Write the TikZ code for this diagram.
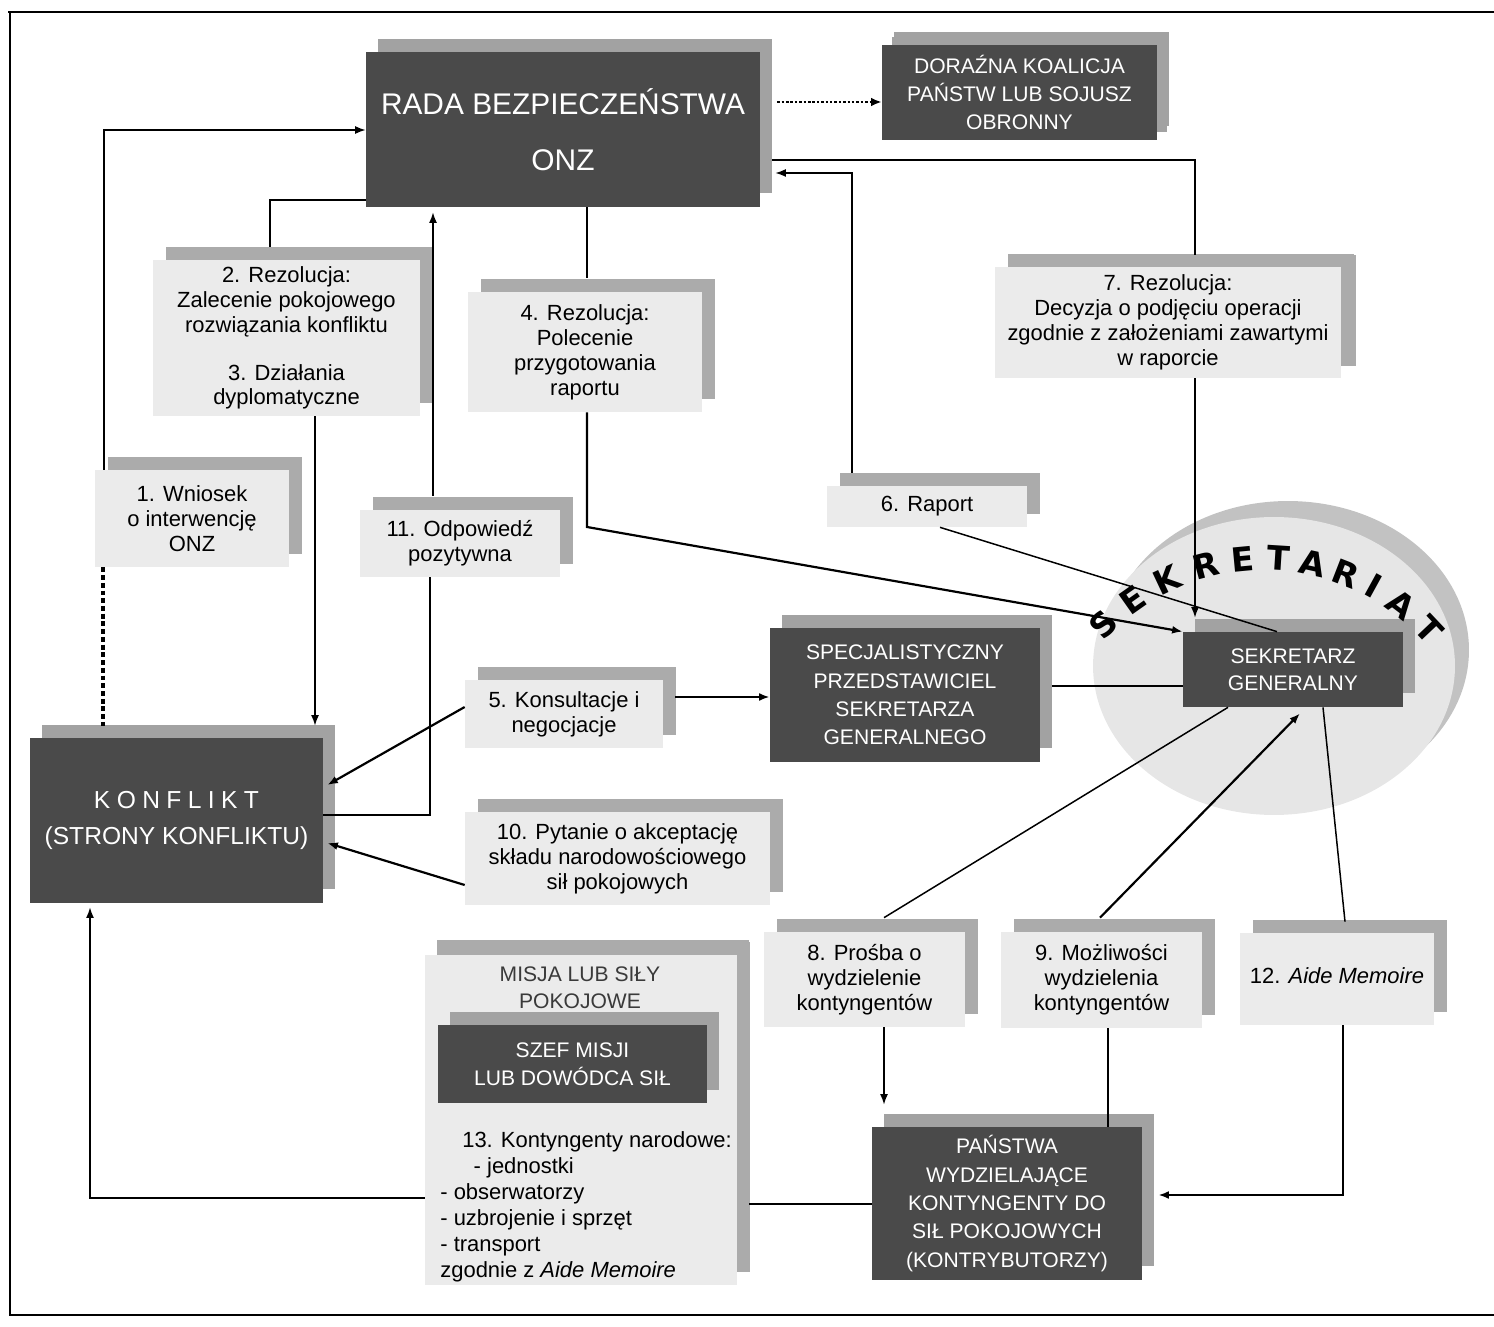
\documentclass[tikz,border=0pt]{standalone}
\usepackage{fontspec}
\setmainfont{Liberation Sans}
\newfontfamily\sekfont{DejaVu Sans}
\usetikzlibrary{arrows.meta,shadows,calc}
\definecolor{dfill}{HTML}{4A4A4A}
\definecolor{dshadow}{HTML}{A2A2A2}
\definecolor{lfill}{HTML}{EBEBEB}
\definecolor{lshadow}{HTML}{ABABAB}
\definecolor{ellA}{HTML}{E6E6E6}
\definecolor{ellB}{HTML}{C2C2C2}
\definecolor{mtext}{HTML}{3A3A3A}
\newcommand\lightfnt{\fontsize{12.5}{14.2}\selectfont}
\newcommand\darkfnt{\fontsize{12}{16.2}\selectfont}
\newcommand\kls{\hspace{0.26em}}
\tikzset{
  lbox/.style={fill=lfill, inner sep=0pt, align=center, font=\lightfnt,
    general shadow={fill=lshadow, shadow xshift=0.26cm, shadow yshift=0.26cm}},
  dbox/.style={fill=dfill, text=white, inner sep=0pt, align=center, font=\darkfnt,
    general shadow={fill=dshadow, shadow xshift=0.24cm, shadow yshift=0.27cm}},
  conn/.style={line width=0.85pt},
  thickc/.style={line width=1.25pt},
  arr/.style={-{Latex[length=6pt,width=4.5pt]}},
  dotv/.style={line width=1.8pt, dash pattern=on 2.8pt off 1.6pt},
  dotarrow/.style={line width=1.6pt, dash pattern=on 1.4pt off 1.1pt, -{Latex[length=6pt,width=5pt]}},
  sekl/.style={font=\sekfont\fontsize{19}{19}\bfseries\selectfont, inner sep=0pt}
}
\begin{document}
\begin{tikzpicture}[x=0.02cm,y=-0.02cm]
\useasboundingbox (0,0) rectangle (1494,1327);
% frame
\draw[line width=1.1pt] (8,12) -- (1494,12);
\draw[line width=1.1pt] (10,12) -- (10,1315) -- (1494,1315);
% secretariat ellipse
\fill[ellB] (1288,650) ellipse [x radius=3.62cm, y radius=2.98cm];
\fill[ellA] (1274,666) ellipse [x radius=3.62cm, y radius=2.98cm];
% boxes
\node[dbox, minimum width=7.88cm, minimum height=3.10cm, font=\fontsize{17}{31.7}\selectfont] (rada) at (563,129.5) {RADA BEZPIECZEŃSTWA\\ONZ};
\node[dbox, minimum width=5.50cm, minimum height=1.90cm, general shadow={fill=dshadow, shadow xshift=0.2cm, shadow yshift=0.16cm}] (dor) at (1019.5,92.5) {DORAŹNA KOALICJA\\PAŃSTW LUB SOJUSZ\\OBRONNY};
\node[dbox, minimum width=5.86cm, minimum height=3.30cm, font=\fontsize{14}{21}\selectfont] (konf) at (176.5,820.5) {K\kls O\kls N\kls F\kls L\kls I\kls K\kls T\\(STRONY KONFLIKTU)};
\node[lbox, minimum width=3.88cm, minimum height=1.94cm] (b1) at (192,518.5) {1. Wniosek\\o interwencję\\ONZ};
\node[lbox, minimum width=5.34cm, minimum height=3.12cm] (b2) at (286.5,338) {2. Rezolucja:\\Zalecenie pokojowego\\rozwiązania konfliktu\\[13pt]3. Działania\\dyplomatyczne};
\node[lbox, minimum width=4.68cm, minimum height=2.40cm] (b4) at (585,352) {4. Rezolucja:\\Polecenie\\przygotowania\\raportu};
\node[lbox, minimum width=6.92cm, minimum height=2.22cm, general shadow={fill=lshadow, shadow xshift=0.3cm, shadow yshift=0.24cm}] (b7) at (1168,322.5) {7. Rezolucja:\\Decyzja o podjęciu operacji\\zgodnie z założeniami zawartymi\\w raporcie};
\node[lbox, minimum width=4.0cm, minimum height=1.34cm] (b11) at (460,543.5) {11. Odpowiedź\\pozytywna};
\node[lbox, minimum width=4.0cm, minimum height=0.82cm] (b6) at (927,506.5) {6. Raport};
\node[lbox, minimum width=3.96cm, minimum height=1.36cm] (b5) at (564,714) {5. Konsultacje i\\negocjacje};
\node[lbox, minimum width=6.10cm, minimum height=1.86cm] (b10) at (617.5,858.5) {10. Pytanie o akceptację\\składu narodowościowego\\sił pokojowych};
\node[dbox, minimum width=5.40cm, minimum height=2.68cm] (specj) at (905,695) {SPECJALISTYCZNY\\PRZEDSTAWICIEL\\SEKRETARZA\\GENERALNEGO};
\node[dbox, minimum width=4.40cm, minimum height=1.50cm, font=\fontsize{12}{15.3}\selectfont] (sek) at (1293,669.5) {SEKRETARZ\\GENERALNY};
\node[lbox, minimum width=4.02cm, minimum height=1.90cm] (b8) at (864.5,979.5) {8. Prośba o\\wydzielenie\\kontyngentów};
\node[lbox, minimum width=4.02cm, minimum height=1.92cm] (b9) at (1101.5,980) {9. Możliwości\\wydzielenia\\kontyngentów};
\node[lbox, minimum width=3.88cm, minimum height=1.84cm] (b12) at (1337,979) {\raisebox{4pt}{12. \textit{Aide Memoire}}};
\node[dbox, minimum width=5.40cm, minimum height=3.06cm] (pan) at (1007,1203.5) {PAŃSTWA\\WYDZIELAJĄCE\\KONTYNGENTY DO\\SIŁ POKOJOWYCH\\(KONTRYBUTORZY)};
\node[lbox, minimum width=6.24cm, minimum height=6.60cm, general shadow={fill=lshadow, shadow xshift=0.24cm, shadow yshift=0.3cm}] (misja) at (581,1120) {};
\node[font=\fontsize{12}{15.3}\selectfont, text=mtext, align=center, inner sep=0pt] (misjalbl) at (580,988) {MISJA LUB SIŁY\\POKOJOWE};
\node[dbox, minimum width=5.38cm, minimum height=1.56cm, font=\fontsize{12}{15.9}\selectfont] (szef) at (572.5,1064) {SZEF MISJI\\LUB DOWÓDCA SIŁ};
\node[anchor=north west, align=left, inner sep=0pt, font=\fontsize{12.5}{14.8}\selectfont] (kont) at (440,1131) {\hspace*{12.5pt}13. Kontyngenty narodowe:\\\hspace*{19pt}- jednostki\\- obserwatorzy\\- uzbrojenie i sprzęt\\- transport\\zgodnie z \textit{Aide Memoire}};
% SEKRETARIAT arc text
\foreach \ch/\ang [count=\i] in {S/-45,E/-35.2,K/-25.2,R/-14.8,E/-5.4,T/3.6,A/12.4,R/21.2,I/28.8,A/37.2,T/46.6}
  \node[sekl, rotate=-\ang] (sk\i) at ({1264+227*sin(\ang)},{785-227*cos(\ang)}) {\ch};
% connectors
\draw[conn,arr] (b1.north -| 104,0) |- (rada.west |- 0,130);
\draw[dotv] (b1.south -| 103,0) -- ([yshift=0.24cm]konf.north -| 103,0);
\draw[conn] (rada.west |- 0,200) -| ([yshift=0.26cm]b2.north -| 270,0);
\draw[conn,arr] (b2.south -| 315,0) -- ([yshift=0.24cm]konf.north -| 315,0);
\draw[conn,arr] ([yshift=0.28cm]b11.north -| 433,0) -- ([yshift=-0.1cm]rada.south -| 433,0);
\draw[conn] (b11.south -| 430,0) |- (konf.east |- 0,815);
\draw[conn] (rada.south -| 587,0) -- ([yshift=0.28cm]b4.north -| 587,0);
\draw[thickc,arr] (b4.south -| 587,0) -- (587,527) -- (sek.north west);
\draw[conn,arr] ([yshift=0.26cm]b6.north -| 852,0) |- ([xshift=0.3cm]rada.east |- 0,173);
\draw[conn] ([xshift=0.24cm]rada.east |- 0,160) -| ([yshift=0.24cm]b7.north -| 1195,0);
\draw[conn,arr] (b7.south -| 1195,0) -- ([yshift=0.28cm]sek.north -| 1195,0);
\draw[conn] (b6.south -| 940,0) -- (sek.north -| 1277,0);
\draw[thickc,arr] (b5.west |- 0,707) -- ([xshift=0.08cm]konf.east |- 0,785);
\draw[thickc,arr] ([xshift=0.24cm]b5.east |- 0,697) -- (specj.west |- 0,697);
\draw[thickc,arr] (b10.west |- 0,885) -- ([xshift=0.08cm]konf.east |- 0,843);
\draw[conn] ([xshift=0.24cm]specj.east |- 0,686) -- (sek.west |- 0,686);
\draw[conn] (sek.south -| 1228,0) -- ([yshift=0.28cm]b8.north -| 884,0);
\draw[thickc,arr] ([yshift=0.28cm]b9.north -| 1100,0) -- ([yshift=-0.12cm]sek.south -| 1300,0);
\draw[conn] (sek.south -| 1323,0) -- ([yshift=0.22cm]b12.north -| 1345,0);
\draw[conn,arr] (b8.south -| 884,0) -- ([yshift=0.44cm]pan.north -| 884,0);
\draw[conn] (b9.south -| 1108,0) -- (pan.north -| 1108,0);
\draw[thickc,arr] (b12.south -| 1343,0) |- ([xshift=0.32cm]pan.east |- 0,1195);
\draw[conn] (pan.west |- 0,1204) -- ([xshift=0.24cm]misja.east |- 0,1204);
\draw[conn,arr] (misja.west |- 0,1198) -| ([yshift=-0.08cm]konf.south -| 90,0);
\draw[dotarrow] ([xshift=0.34cm]rada.east |- 0,102) -- (dor.west |- 0,102);
\end{tikzpicture}
\end{document}
